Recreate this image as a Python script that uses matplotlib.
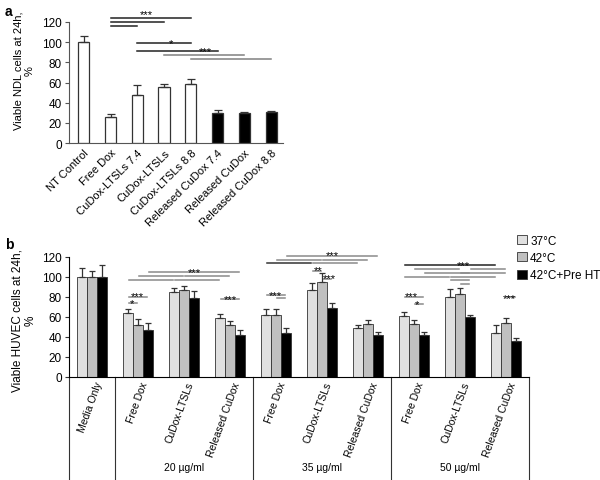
import matplotlib
matplotlib.use("Agg")
import matplotlib.pyplot as plt
import numpy as np
from matplotlib.patches import Patch

plt.rcParams["font.family"] = ["Liberation Sans", "DejaVu Sans"]

# ---- panel a data ----
labels_a = ["NT Control", "Free Dox", "CuDox-LTSLs 7.4", "CuDox-LTSLs",
            "CuDox-LTSLs 8.8", "Released CuDox 7.4", "Released CuDox",
            "Released CuDox 8.8"]
vals_a = [100, 26, 48, 56, 59, 30, 30, 31]
err_a = [6, 3, 10, 3, 4, 3, 0.5, 1]
released_a = [False, False, False, False, False, True, True, True]
# (bar i, bar j, height, colour)
sig_a = [(1, 4, 123.5, "#222222"), (1, 3, 120, "#222222"), (1, 2, 116, "#222222"),
         (2, 4, 99, "#222222"), (2, 5, 91, "#222222"),
         (3, 6, 87, "#808080"), (4, 7, 83, "#808080")]
stars_a = [("***", 2.35, 131), ("*", 3.25, 102), ("***", 4.55, 94)]

# ---- panel b data ----
cat_b = ["Media Only", "Free Dox", "CuDox-LTSLs", "Released CuDox",
         "Free Dox", "CuDox-LTSLs", "Released CuDox",
         "Free Dox", "CuDox-LTSLs", "Released CuDox"]
groups_b = ["20 µg/ml", "35 µg/ml", "50 µg/ml"]
temps = ["37°C", "42°C", "42°C+Pre HT"]
v37 = [100, 64, 85, 59, 62, 87, 49, 61, 80, 44]
e37 = [9, 3.5, 4, 4, 6, 7, 3, 4, 8, 8]
v42 = [100, 52, 87, 52, 62, 95, 53, 53, 83, 54]
e42 = [6, 6, 4, 4, 6, 9, 4, 4, 6, 5]
vht = [100, 47, 79, 42, 44, 69, 42, 42, 60, 36]
eht = [12, 7, 7, 5, 5, 5, 3, 3, 2, 3]
colors_b = ["#e0e0e0", "#c0c0c0", "#000000"]

G = "#8a8a8a"
# (cluster a, bar a, cluster b, bar b, height, colour)
sig_b = [
    (1, 0, 2, 0, 96.4, G), (2, 0, 3, 0, 96.4, G),
    (1, 1, 2, 1, 100.4, G), (2, 1, 3, 1, 100.4, G),
    (1, 2, 2, 2, 104.7, G), (2, 2, 3, 2, 104.7, G),
    (1, 0, 1, 2, 79.4, G), (1, 0, 1, 1, 73.4, G), (3, 0, 3, 2, 77.7, G),
    (4, 0, 5, 0, 113.4, "#333333"), (5, 0, 6, 0, 113.4, G),
    (4, 1, 5, 1, 117, G), (5, 1, 6, 1, 117, G),
    (4, 2, 5, 2, 120.4, G), (5, 2, 6, 2, 120.4, G),
    (4, 0, 4, 2, 81.7, G), (4, 1, 4, 2, 78.7, G),
    (5, 0, 5, 1, 106, G), (5, 1, 5, 2, 97.7, G),
    (7, 0, 9, 0, 111.7, "#222222"),
    (7, 1, 8, 1, 107.7, G), (8, 2, 9, 1, 107.7, G),
    (7, 2, 8, 2, 103.7, G), (8, 1, 9, 1, 103.7, G),
    (7, 0, 8, 0, 100, G), (8, 0, 9, 0, 100, G),
    (8, 0, 8, 2, 96.4, G), (8, 1, 8, 2, 92.7, G),
    (7, 0, 7, 2, 80, G), (7, 1, 7, 2, 72.4, G), (9, 1, 9, 2, 79.4, G),
]
stars_b = [("***", 2.22, 107.5), ("***", 0.98, 83.7), ("*", 0.87, 76.7), ("***", 3.0, 81),
           ("***", 5.22, 124.4), ("***", 3.98, 85), ("**", 4.91, 109.4), ("***", 5.17, 101.7),
           ("***", 8.07, 114.4), ("***", 6.95, 83.4), ("*", 7.07, 76), ("***", 9.07, 81.7)]

STAR_FS = 8
STAR_DROP = 6.0  # ink centre of '*' sits ~0.55 em above the baseline


def put_stars(ax, items):
    for s, x, y in items:
        ax.text(x, y - STAR_DROP, s, ha="center", va="baseline", fontsize=STAR_FS,
                clip_on=False)


fig = plt.figure(figsize=(6.0, 4.81), dpi=100)

# ================= panel a =================
axa = fig.add_axes([0.115, 0.7006, 0.357, 0.2516])
xa = np.arange(len(vals_a))
face_a = ["black" if r else "white" for r in released_a]
axa.bar(xa, vals_a, width=0.42, color=face_a, edgecolor="#333333", linewidth=0.9, zorder=2)
axa.errorbar(xa, vals_a, yerr=[np.zeros(len(err_a)), err_a], fmt="none",
             ecolor="#333333", elinewidth=0.9, capsize=3, capthick=0.9, zorder=3)
for i, j, y, c in sig_a:
    axa.plot([xa[i], xa[j]], [y, y], color=c, lw=1.1, clip_on=False)
put_stars(axa, stars_a)
axa.set_xlim(-0.55, 7.45)
axa.set_ylim(0, 120)
axa.set_yticks(range(0, 121, 20))
axa.tick_params(axis="y", labelsize=8.5, length=3, color="#555555", pad=2)
axa.set_xticks(xa)
axa.set_xticklabels(labels_a, rotation=45, ha="right", rotation_mode="anchor", fontsize=8)
axa.tick_params(axis="x", length=0, pad=3)
for sp in ["top", "right"]:
    axa.spines[sp].set_visible(False)
for sp in ["left", "bottom"]:
    axa.spines[sp].set_color("#555555")
fig.text(24 / 600, 1 - 71 / 481, "Viable NDL cells at 24h,\n%", rotation=90,
         ha="center", va="center", multialignment="center", fontsize=8, linespacing=1.1)

# ================= panel b =================
axb = fig.add_axes([0.115, 0.2148, 0.7667, 0.2495])
xb = np.arange(len(cat_b))
bw = 0.217
series = [(v37, e37), (v42, e42), (vht, eht)]
for k, (v, e) in enumerate(series):
    pos = xb + (k - 1) * bw
    axb.bar(pos, v, width=bw, color=colors_b[k], edgecolor="#333333", linewidth=0.6,
            label=temps[k], zorder=2)
    axb.errorbar(pos, v, yerr=[np.zeros(len(e)), e], fmt="none", ecolor="#333333",
                 elinewidth=0.9, capsize=2.5, capthick=0.9, zorder=3)


def bar_x(c, k):
    return xb[c] + (k - 1) * bw


for ca, ka, cb, kb, y, c in sig_b:
    x0 = bar_x(ca, ka) + 0.03
    x1 = bar_x(cb, kb) - 0.03
    axb.plot([x0, x1], [y, y], color=c, lw=1.1, clip_on=False)
put_stars(axb, stars_b)

axb.set_xlim(-0.5, 9.5)
axb.set_ylim(0, 120)
axb.set_yticks(range(0, 121, 20))
axb.tick_params(axis="y", labelsize=8.5, length=3, color="#333333", pad=2)
axb.set_xticks(xb)
axb.set_xticklabels([])
axb.tick_params(axis="x", length=0)
for sp in ["top", "right"]:
    axb.spines[sp].set_visible(False)
fig.text(24 / 600, 1 - 321 / 481, "Viable HUVEC cells at 24h,\n%", rotation=90,
         ha="center", va="center", multialignment="center", fontsize=8.5, linespacing=1.05)

trans = axb.get_xaxis_transform()
for x, lab in zip(xb, cat_b):
    axb.text(x + 0.05, -0.03, lab, rotation=70, ha="right", va="top",
             rotation_mode="anchor", fontsize=7.5, transform=trans)
for xd in [-0.5, 0.5, 3.5, 6.5, 9.5]:
    axb.plot([xd, xd], [0, -0.87], color="#333333", lw=0.8, transform=trans, clip_on=False)
for gi, g in enumerate(groups_b):
    axb.text(2 + 3 * gi, -0.755, g, ha="center", va="center", fontsize=7.5, transform=trans)

handles = [Patch(facecolor=colors_b[k], edgecolor="#333333", linewidth=0.6, label=temps[k])
           for k in range(3)]
fig.legend(handles=handles, loc="upper left", bbox_to_anchor=(0.862, 0.51), frameon=False,
           fontsize=8.5, handlelength=0.8, handleheight=0.8, handletextpad=0.3,
           labelspacing=0.45, borderpad=0, borderaxespad=0)

fig.text(0.008, 0.99, "a", fontsize=10, fontweight="bold", va="top")
fig.text(0.008, 0.505, "b", fontsize=10, fontweight="bold", va="top")

fig.savefig("out.png", dpi=100)
